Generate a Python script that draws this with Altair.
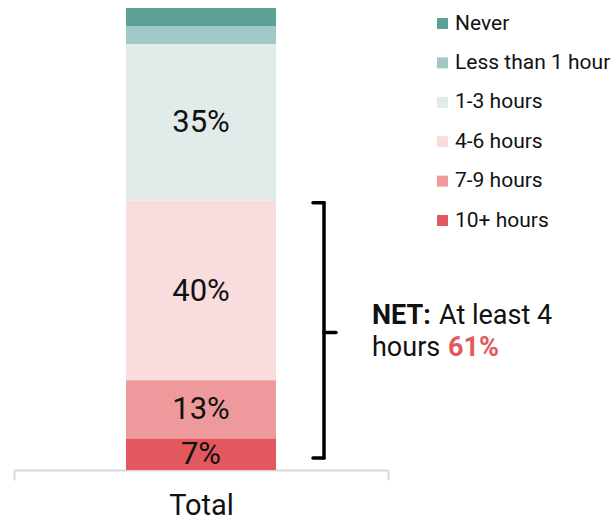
import altair as alt
import pandas as pd

# Daily hours share, top of the bar to bottom
categories = ["Never", "Less than 1 hour", "1-3 hours", "4-6 hours", "7-9 hours", "10+ hours"]
shares = [4, 4, 35, 40, 13, 7]
colors = ["#5BA198", "#A0C8C4", "#E0EBEA", "#F9DCDD", "#EE9A9C", "#E3585E"]
group = ["Total"] * len(categories)

net_label_value = 61
net_top = sum(shares[3:])          # start of the "4+ hours" block
net_mid = net_top / 2

df = pd.DataFrame({
    "group": group,
    "category": categories,
    "share": shares,
    "stack_order": list(range(len(categories)))[::-1],  # 10+ at the bottom
})
df["label"] = [f"{v}%" for v in shares]

FONT = "Roboto"
y_scale = alt.Scale(domain=[0, sum(shares)], nice=False, zero=True)

x_enc = alt.X(
    "group:N",
    title=None,
    scale=alt.Scale(paddingInner=0, paddingOuter=0),
    axis=alt.Axis(
        labelAngle=0, labelFontSize=29, labelFont=FONT, labelColor="#111111",
        labelPadding=11, domainColor="#D9D9D9", domainWidth=2,
        tickColor="#D9D9D9", tickWidth=2, tickSize=10, tickBand="extent",
        grid=False,
    ),
)

base = alt.Chart(df).transform_stack(
    stack="share", groupby=["group"], as_=["y0", "y1"],
    sort=[alt.SortField("stack_order", order="ascending")],
)

bars = base.mark_bar(size=150).encode(
    x=x_enc,
    y=alt.Y("y0:Q", scale=y_scale, axis=None),
    y2="y1:Q",
    color=alt.Color(
        "category:N",
        sort=categories,
        scale=alt.Scale(domain=categories, range=colors),
        legend=alt.Legend(
            title=None, orient="none", legendX=418, legendY=5,
            symbolType="square", symbolSize=120, symbolStrokeWidth=0,
            labelFont=FONT, labelFontSize=21, labelColor="#111111",
            rowPadding=17.4, labelOffset=2, symbolOpacity=1,
        ),
    ),
    tooltip=["category", "share"],
)

labels = base.transform_filter("datum.share >= 5").transform_calculate(
    mid="(datum.y0 + datum.y1) / 2"
).mark_text(font=FONT, fontSize=31, color="#111111", baseline="middle", dy=1).encode(
    x=alt.X("group:N"),
    y=alt.Y("mid:Q", scale=y_scale),
    text="label:N",
)

# Brace marking the "at least 4 hours" block
brace_style = dict(color="#000000", strokeWidth=3.5, strokeCap="round")
brace_x = 310
anno = alt.Chart(pd.DataFrame({"k": [0]}))
brace_spine = anno.mark_rule(yOffset=2, y2Offset=-12, **brace_style).encode(
    x=alt.value(brace_x), y=alt.datum(net_top, scale=y_scale), y2=alt.datum(0)
)
brace_top = anno.mark_rule(yOffset=2, **brace_style).encode(
    x=alt.value(brace_x - 11), x2=alt.value(brace_x), y=alt.datum(net_top, scale=y_scale)
)
brace_bottom = anno.mark_rule(yOffset=-12, **brace_style).encode(
    x=alt.value(brace_x - 11), x2=alt.value(brace_x), y=alt.datum(0, scale=y_scale)
)
brace_tip = anno.mark_rule(yOffset=-3, **brace_style).encode(
    x=alt.value(brace_x), x2=alt.value(brace_x + 12), y=alt.datum(net_mid, scale=y_scale)
)

def note(text, x, dy, bold=False, color="#111111"):
    return anno.mark_text(
        font=FONT, fontSize=27, fontWeight="bold" if bold else "normal",
        color=color, align="left", baseline="alphabetic", dy=dy,
    ).encode(x=alt.value(x), y=alt.datum(net_mid, scale=y_scale), text=alt.value(text))

net_text = (
    note("NET:", 358, -11, bold=True)
    + note("At least 4", 425, -11)
    + note("hours", 358, 21)
    + note(f"{net_label_value}%", 434, 21, bold=True, color="#E3585E")
)

chart = alt.layer(
    bars, labels, brace_spine, brace_top, brace_bottom, brace_tip, net_text
).properties(
    width=374, height=462,
    autosize=alt.AutoSizeParams(type="none"),
    padding={"left": 14, "top": 8, "right": 223, "bottom": 51},
).configure(font=FONT).configure_view(stroke=None)

chart.save("out.html", embed_options={"renderer": "svg", "actions": False})
